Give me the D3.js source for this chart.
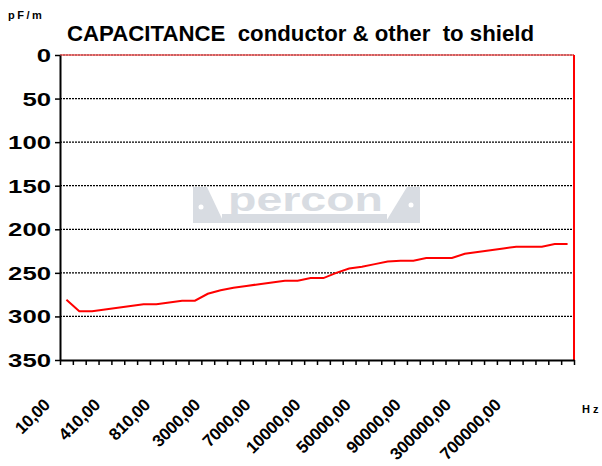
<!DOCTYPE html>
<html>
<head>
<meta charset="utf-8">
<script src="https://cdn.jsdelivr.net/npm/d3@7"></script>
<style>
    body { margin: 0; background: #ffffff; }
    #chart { width: 602px; height: 466px; }
</style>
</head>
<body>
<div id="chart"></div>
<script>
// frequency categories (Hz), one per point
var frequencies = [10, 110, 210, 310, 410, 510, 610, 710, 810, 910,
    1000, 2000, 3000, 4000, 5000, 6000, 7000, 8000, 9000, 9500,
    10000, 20000, 30000, 40000, 50000, 60000, 70000, 80000, 90000, 100000,
    200000, 250000, 300000, 400000, 500000, 600000, 700000, 800000, 900000, 1000000];

// capacitance conductor & other to shield (pF/m)
var capacitance = [281, 294, 294, 292, 290, 288, 286, 286, 284, 282,
    282, 274, 270, 267, 265, 263, 261, 259, 259, 256,
    256, 250, 245, 243, 240, 237, 236, 236, 233, 233,
    233, 228, 226, 224, 222, 220, 220, 220, 217, 217];

var yTicks = [0, 50, 100, 150, 200, 250, 300, 350];
var xTickLabels = [10, 410, 810, 3000, 7000, 10000, 50000, 90000, 300000, 700000];

var DrawChart = function (id) {
    this.id = id
    this.svgWidth = 602
    this.svgHeight = 466

    this.svg = d3.select('#' + id).append('svg')
        .attr('width', this.svgWidth)
        .attr('height', this.svgHeight)

    this.margin = {top: 55, right: 28, bottom: 106, left: 60}
}

DrawChart.prototype.layout = function () {
    const svg = this.svg
    const m = this.margin
    const left = m.left, right = this.svgWidth - m.right
    const top = m.top, bottom = this.svgHeight - m.bottom
    const font = "'Liberation Sans', Arial, sans-serif"

    const x = d3.scaleBand().domain(frequencies).range([left, right])
    const xEdge = d3.scaleLinear().domain([0, frequencies.length]).range([left, right])
    const y = d3.scaleLinear().domain([0, 350]).range([top, bottom])

    // watermark logo
    const logo = svg.append('g').attr('fill', '#d8dce2')
    logo.append('polygon').attr('points', '193,187 207,187 224,223 193,223')
    logo.append('polygon').attr('points', '407,187 420,187 420,223 385,223')
    logo.append('rect').attr('x', 222).attr('y', 214).attr('width', 165).attr('height', 9)
    logo.append('text')
        .attr('x', 228).attr('y', 211)
        .attr('textLength', 155).attr('lengthAdjust', 'spacingAndGlyphs')
        .text('percon')
        .style('font-size', '34px')
        .style('font-family', font)
        .style('font-weight', 'bold')
    logo.append('circle').attr('cx', 201).attr('cy', 207).attr('r', 2.5).attr('fill', '#ffffff')
    logo.append('circle').attr('cx', 411).attr('cy', 205).attr('r', 2.5).attr('fill', '#ffffff')

    // gridlines
    svg.append('g').selectAll('line')
        .data(yTicks.filter(d => d > 0 && d < 350))
        .join('line')
        .attr('x1', left).attr('x2', right)
        .attr('y1', d => y(d)).attr('y2', d => y(d))
        .attr('stroke', '#000000')
        .attr('stroke-width', 1.3)
        .attr('stroke-dasharray', '2,1')

    // top and right border of plot area
    svg.append('line')
        .attr('x1', left).attr('x2', right)
        .attr('y1', y(0)).attr('y2', y(0))
        .attr('stroke', '#ff0000').attr('stroke-width', 1)
    svg.append('line')
        .attr('x1', left).attr('x2', right)
        .attr('y1', y(0)).attr('y2', y(0))
        .attr('stroke', '#000000').attr('stroke-opacity', 0.45)
        .attr('stroke-width', 1).attr('stroke-dasharray', '2,1')
    svg.append('line')
        .attr('x1', right).attr('x2', right)
        .attr('y1', y(0)).attr('y2', bottom)
        .attr('stroke', '#ff0000').attr('stroke-width', 2)

    // series
    const line = d3.line()
        .x((d, i) => x(frequencies[i]) + x.bandwidth() / 2)
        .y(d => y(d))
    svg.append('path')
        .datum(capacitance)
        .attr('d', line)
        .attr('fill', 'none')
        .attr('stroke', '#ff0000')
        .attr('stroke-width', 2)

    // left axis
    const yAxis = svg.append('g')
        .attr('transform', 'translate(' + left + ',0)')
        .call(d3.axisLeft(y).tickValues(yTicks).tickSize(5).tickSizeOuter(0).tickPadding(4))
    yAxis.select('.domain').attr('stroke', '#000000').attr('stroke-width', 2)
    yAxis.selectAll('.tick line').attr('stroke', '#000000').attr('stroke-width', 1.5)
    yAxis.selectAll('.tick text')
        .attr('dy', '0.36em')
        .attr('textLength', d => String(d).length * 14.3)
        .attr('lengthAdjust', 'spacingAndGlyphs')
        .style('font-size', '18px')
        .style('font-family', font)
        .style('font-weight', 'bold')
        .style('fill', '#000000')

    // bottom axis, ticks between categories
    const xAxis = svg.append('g')
        .attr('transform', 'translate(0,' + bottom + ')')
        .call(d3.axisBottom(xEdge).tickValues(d3.range(frequencies.length + 1))
            .tickSize(5).tickSizeOuter(0).tickFormat(''))
    xAxis.select('.domain').attr('stroke', '#000000').attr('stroke-width', 2)
    xAxis.selectAll('.tick line').attr('stroke', '#000000').attr('stroke-width', 1.5)

    // rotated category labels
    const labelPos = d3.scalePoint().domain(xTickLabels).range([51, 502])
    svg.append('g').selectAll('text')
        .data(xTickLabels)
        .join('text')
        .attr('transform', d => 'translate(' + labelPos(d) + ',406) rotate(-45)')
        .text(d => d.toFixed(2).replace('.', ','))
        .style('font-size', '17px')
        .style('font-family', font)
        .style('font-weight', 'bold')
        .style('letter-spacing', '-0.3px')
        .style('text-anchor', 'end')

    // title and units
    svg.append('text')
        .attr('x', 67).attr('y', 41)
        .attr('textLength', 467)
        .attr('lengthAdjust', 'spacingAndGlyphs')
        .text('CAPACITANCE  conductor & other  to shield')
        .style('white-space', 'pre')
        .style('font-size', '22px')
        .style('font-family', font)
        .style('font-weight', 'bold')
    svg.append('text')
        .attr('x', 8).attr('y', 19)
        .text('pF/m')
        .style('font-size', '11px')
        .style('font-family', font)
        .style('font-weight', 'bold')
        .style('letter-spacing', '2.5px')
    svg.append('text')
        .attr('x', 582).attr('y', 413)
        .text('Hz')
        .style('font-size', '11px')
        .style('font-family', font)
        .style('font-weight', 'bold')
        .style('letter-spacing', '3px')
}

var chart = new DrawChart('chart')
chart.layout()
</script>
</body>
</html>
